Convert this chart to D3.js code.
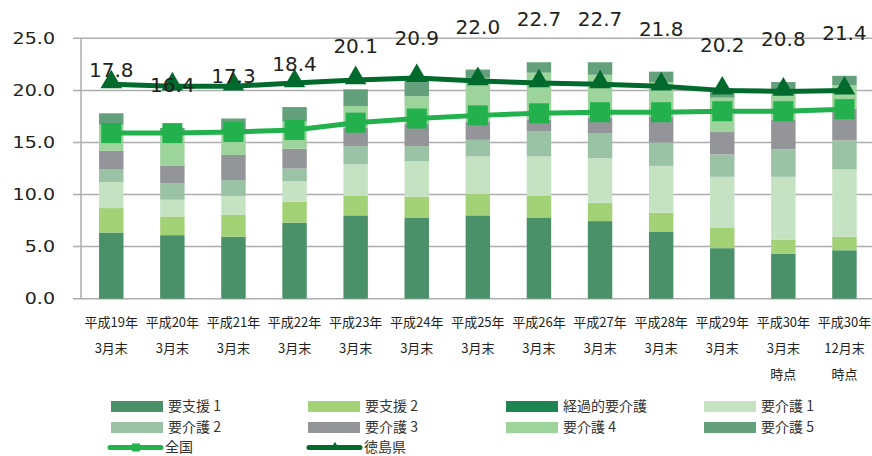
<!DOCTYPE html>
<html><head><meta charset="utf-8">
<script src="https://cdn.jsdelivr.net/npm/d3@7"></script>
<style>
html,body{margin:0;padding:0;background:#fff;}
svg{display:block;}
</style></head>
<body>
<svg id="chart" width="872" height="456"></svg>
<script>
const categories = ["平成19年\n3月末","平成20年\n3月末","平成21年\n3月末","平成22年\n3月末","平成23年\n3月末","平成24年\n3月末","平成25年\n3月末","平成26年\n3月末","平成27年\n3月末","平成28年\n3月末","平成29年\n3月末","平成30年\n3月末\n時点","平成30年\n12月末\n時点"];
const seriesNames = ["要支援 1","要支援 2","経過的要介護","要介護 1","要介護 2","要介護 3","要介護 4","要介護 5"];
const seriesColors = ["#4a9169","#a3d176","#1e8452","#c5e3c2","#9ac2a4","#939598","#9dd49b","#63a07b"];
const shien1 = [6.35,6.1,5.95,7.3,8.0,7.8,8.0,7.8,7.45,6.45,4.85,4.3,4.65];
const shien2 = [2.35,1.8,2.1,2.0,1.9,2.0,2.05,2.1,1.75,1.8,2.0,1.35,1.3];
const keika  = [0,0,0,0,0,0,0,0,0,0,0,0,0];
const kaigo1 = [2.5,1.6,1.8,2.0,3.0,3.4,3.6,3.75,4.3,4.5,4.85,6.05,6.45];
const kaigo2 = [1.25,1.6,1.55,1.2,1.75,1.45,1.6,2.45,2.4,2.25,2.15,2.65,2.8];
const kaigo3 = [1.75,1.7,2.4,1.9,1.75,2.15,1.75,1.1,1.5,2.5,2.15,2.85,3.05];
const kaigo4 = [2.5,2.9,2.2,2.6,2.1,2.65,4.2,4.5,4.1,3.3,3.3,2.7,2.25];
const kaigo5 = [1.1,0.7,1.3,1.4,1.6,1.45,0.8,1.0,1.2,1.0,0.9,0.9,0.9];
const totals = [17.8,16.4,17.3,18.4,20.1,20.9,22.0,22.7,22.7,21.8,20.2,20.8,21.4];
const zenkoku = [15.9,15.9,16.0,16.2,16.9,17.3,17.6,17.8,17.9,17.9,18.0,18.0,18.2];
const tokushima = [20.6,20.4,20.4,20.7,21.0,21.2,20.9,20.7,20.6,20.4,20.0,19.9,20.0];
const yTicks = [0,5,10,15,20,25];

const seriesValues = [shien1,shien2,keika,kaigo1,kaigo2,kaigo3,kaigo4,kaigo5];
const rows = categories.map((c,i)=>{const r={cat:c}; seriesNames.forEach((s,j)=>r[s]=seriesValues[j][i]); return r;});

const svg = d3.select("#chart");
const x = d3.scaleBand().domain(categories).range([80.7,875]).paddingInner(0.6).paddingOuter(0.3);
const y = d3.scaleLinear().domain([0,25]).range([298.7,38.3]);
const cx = c => x(c)+x.bandwidth()/2;

// gridlines & y axis
const gAxis = svg.append("g");
gAxis.selectAll("line.grid").data(yTicks).join("line")
  .attr("x1",73).attr("x2",872).attr("y1",d=>y(d)).attr("y2",d=>y(d))
  .attr("stroke","#adadb0").attr("stroke-width",1.5);
gAxis.append("line").attr("x1",81).attr("x2",81).attr("y1",y(25)).attr("y2",y(0))
  .attr("stroke","#adadb0").attr("stroke-width",1.5);
gAxis.selectAll("text.yl").data(yTicks).join("text")
  .attr("transform",d=>`translate(55,${y(d)+5.5}) scale(1.27,1)`)
  .attr("text-anchor","end").attr("font-family","DejaVu Sans").attr("font-size",15)
  .attr("fill","#231f20").text(d=>d3.format(".1f")(d));

// bars
const stack = d3.stack().keys(seriesNames)(rows);
svg.append("g").selectAll("g").data(stack).join("g")
  .attr("fill",(d,i)=>seriesColors[i])
  .selectAll("rect").data(d=>d).join("rect")
  .attr("x",d=>x(d.data.cat)).attr("width",x.bandwidth())
  .attr("y",d=>y(d[1])).attr("height",d=>Math.max(0,y(d[0])-y(d[1])));

// 全国 line
const line = d3.line().x((d,i)=>cx(categories[i])).y(d=>y(d));
svg.append("path").datum(zenkoku).attr("d",line).attr("fill","none")
  .attr("stroke","#22b14c").attr("stroke-width",5).attr("stroke-linejoin","round");
svg.append("g").selectAll("rect").data(zenkoku).join("rect")
  .attr("x",(d,i)=>cx(categories[i])-10).attr("y",d=>y(d)-10)
  .attr("width",20).attr("height",20).attr("fill","#22b14c");

// 徳島県 line
svg.append("path").datum(tokushima).attr("d",line).attr("fill","none")
  .attr("stroke","#006a2d").attr("stroke-width",5).attr("stroke-linejoin","round");
const tri = d3.symbol().type(d3.symbolTriangle).size(200);
svg.append("g").selectAll("path").data(tokushima).join("path")
  .attr("transform",(d,i)=>`translate(${cx(categories[i])},${y(d)-2})`)
  .attr("d",tri).attr("fill","#006a2d");

// total labels
svg.append("g").selectAll("text").data(totals).join("text")
  .attr("x",(d,i)=>cx(categories[i])).attr("y",d=>y(d)-36)
  .attr("text-anchor","middle").attr("font-family","DejaVu Sans").attr("font-size",20)
  .attr("fill","#231f20").text(d=>d3.format(".1f")(d));

// x labels
const xl = svg.append("g").selectAll("text").data(categories).join("text")
  .attr("text-anchor","middle").attr("font-family","Noto Sans CJK JP").attr("font-size",13)
  .attr("fill","#231f20");
xl.each(function(c){
  const t=d3.select(this);
  c.split("\n").forEach((ln,k)=>{
    t.append("tspan").attr("x",cx(c)).attr("y",326.5+k*26).text(ln);
  });
});

// legend
const legCols = [111,308,506,704];
const legRows = [406.5,427.5,447.5];
const leg = svg.append("g").attr("font-family","Noto Sans CJK JP").attr("font-size",14).attr("fill","#333");
seriesNames.forEach((s,i)=>{
  const col=i%4,row=Math.floor(i/4);
  leg.append("rect").attr("x",legCols[col]).attr("y",legRows[row]-5.5).attr("width",52).attr("height",11).attr("fill",seriesColors[i]);
  leg.append("text").attr("x",legCols[col]+57).attr("y",legRows[row]+4.5).text(s);
});
const lineLeg = [{name:"全国",color:"#22b14c",x:108,mk:"sq"},{name:"徳島県",color:"#006a2d",x:307,mk:"tri"}];
lineLeg.forEach(l=>{
  const yy=legRows[2];
  leg.append("line").attr("x1",l.x+2).attr("x2",l.x+53).attr("y1",yy).attr("y2",yy)
    .attr("stroke",l.color).attr("stroke-width",5).attr("stroke-linecap","round");
  if(l.mk==="sq") leg.append("rect").attr("x",l.x+24).attr("y",yy-4).attr("width",8).attr("height",8).attr("fill",l.color);
  else leg.append("path").attr("transform",`translate(${l.x+28},${yy-1})`).attr("d",d3.symbol().type(d3.symbolTriangle).size(30)).attr("fill",l.color);
  leg.append("text").attr("x",l.x+57).attr("y",yy+4.5).text(l.name);
});
</script>
</body></html>
